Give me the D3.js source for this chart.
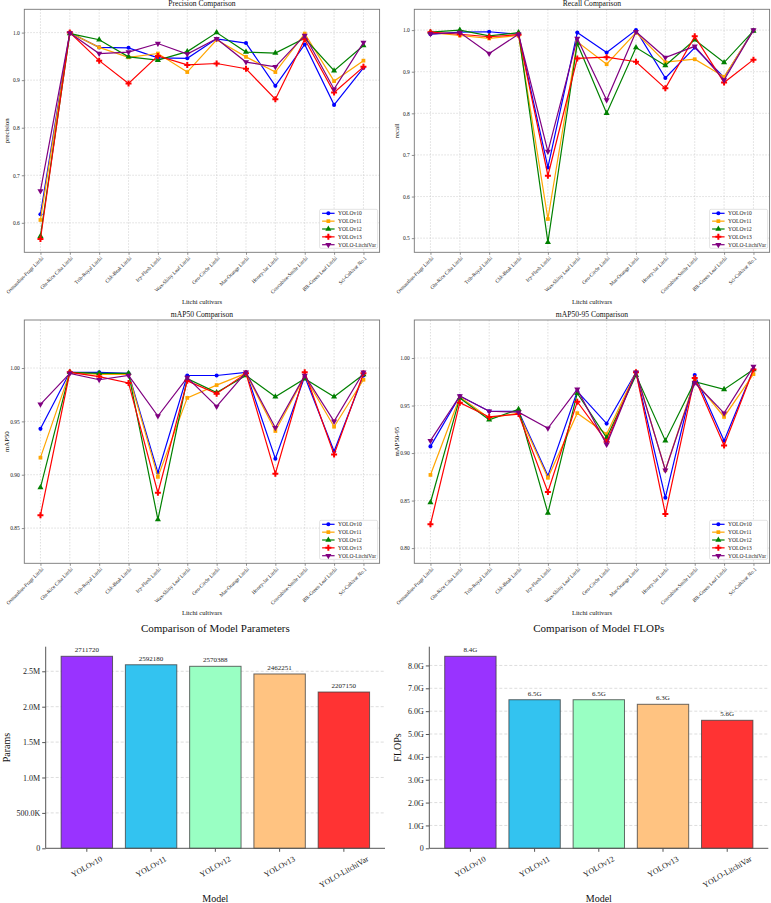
<!DOCTYPE html>
<html>
<head>
<meta charset="utf-8">
<script src="https://cdn.jsdelivr.net/npm/d3@7"></script>
<style>
  body { margin: 0; background: #fff; }
  svg { display: block; font-family: "Liberation Serif", "Times New Roman", serif; }
</style>
</head>
<body>
<svg id="chart" width="771" height="903"></svg>
<script>
// cultivars on the x axis of the four line charts
const cultivars = [
  "Osmanthus-Fragr Litchi", "Glu-Rice Ciba Litchi", "Trib-Royal Litchi", "Chk-Beak Litchi",
  "Icy-Flesh Litchi", "Wax-Shiny Leaf Litchi", "Gen-Circle Litchi", "Mar-Orange Litchi",
  "Honey-Jar Litchi", "Concubine-Smile Litchi", "Blk-Green Leaf Litchi", "Sci-Cultivar No.1"
];
const models = ["YOLOv10", "YOLOv11", "YOLOv12", "YOLOv13", "YOLO-LitchiVar"];

// one row per model, same order as `models`
const precision = [
  [0.618, 1.000, 0.969, 0.968, 0.947, 0.946, 0.987, 0.978, 0.888, 0.975, 0.848, 0.926],
  [0.606, 1.000, 0.969, 0.948, 0.956, 0.917, 0.985, 0.949, 0.917, 0.998, 0.898, 0.941],
  [0.572, 0.998, 0.985, 0.949, 0.942, 0.960, 1.000, 0.959, 0.957, 0.988, 0.920, 0.973],
  [0.566, 1.000, 0.941, 0.893, 0.951, 0.932, 0.935, 0.924, 0.860, 0.986, 0.874, 0.928],
  [0.667, 0.999, 0.956, 0.959, 0.977, 0.955, 0.987, 0.938, 0.928, 0.994, 0.881, 0.979]
];
const recall = [
  [0.990, 0.995, 0.996, 0.990, 0.670, 0.994, 0.946, 1.000, 0.885, 0.958, 0.886, 1.000],
  [0.994, 0.987, 0.980, 0.987, 0.546, 0.972, 0.918, 0.994, 0.923, 0.930, 0.888, 0.999],
  [0.995, 1.000, 0.986, 0.994, 0.490, 0.968, 0.800, 0.958, 0.915, 0.977, 0.922, 0.998],
  [0.995, 0.990, 0.984, 0.989, 0.650, 0.932, 0.935, 0.924, 0.860, 0.985, 0.874, 0.929],
  [0.991, 0.994, 0.944, 0.990, 0.708, 0.980, 0.832, 0.996, 0.934, 0.961, 0.880, 1.000]
];
const map50 = [
  [0.943, 0.996, 0.996, 0.995, 0.902, 0.993, 0.993, 0.996, 0.915, 0.992, 0.922, 0.993],
  [0.916, 0.996, 0.994, 0.994, 0.898, 0.972, 0.984, 0.995, 0.941, 0.992, 0.945, 0.989],
  [0.888, 0.996, 0.995, 0.995, 0.858, 0.990, 0.977, 0.993, 0.973, 0.990, 0.973, 0.994],
  [0.862, 0.996, 0.992, 0.986, 0.883, 0.988, 0.976, 0.995, 0.901, 0.996, 0.919, 0.995],
  [0.966, 0.995, 0.989, 0.993, 0.955, 0.991, 0.964, 0.996, 0.944, 0.993, 0.950, 0.996]
];
const map5095 = [
  [0.907, 0.960, 0.944, 0.944, 0.876, 0.965, 0.931, 0.985, 0.853, 0.982, 0.913, 0.988],
  [0.877, 0.959, 0.937, 0.942, 0.874, 0.942, 0.920, 0.985, 0.882, 0.976, 0.938, 0.983],
  [0.848, 0.958, 0.935, 0.946, 0.837, 0.963, 0.916, 0.982, 0.913, 0.975, 0.967, 0.988],
  [0.825, 0.953, 0.938, 0.941, 0.859, 0.954, 0.912, 0.985, 0.836, 0.979, 0.908, 0.988],
  [0.913, 0.960, 0.944, 0.943, 0.926, 0.967, 0.909, 0.985, 0.882, 0.974, 0.942, 0.991]
];

// bar charts
const params = [2711720, 2592180, 2570388, 2462251, 2207150];
const flops = [8.4, 6.5, 6.5, 6.3, 5.6];

const lineColors = ["blue", "orange", "green", "red", "purple"];
const markers = ["circle", "square", "tri", "plus", "tridown"];
const barColors = ["#9933ff", "#33c3f0", "#99ffc3", "#ffc381", "#ff3333"];

const svg = d3.select("#chart");

function markerPath(kind) {
  if (kind === "circle") return d3.symbol(d3.symbolCircle, 13)();
  if (kind === "square") return d3.symbol(d3.symbolSquare, 14)();
  if (kind === "tri" || kind === "tridown") return d3.symbol(d3.symbolTriangle, 16)();
  return d3.symbol(d3.symbolCross, 20)();
}

function drawLine(opt) {
  const g = svg.append("g");
  const x = d3.scaleLinear().domain([-0.55, cultivars.length - 0.45]).range([opt.left, opt.right]);
  const y = d3.scaleLinear().domain(opt.domain).range([opt.bottom, opt.top]);

  // grid
  g.selectAll(".gx").data(cultivars).join("line")
    .attr("x1", (d, i) => x(i)).attr("x2", (d, i) => x(i))
    .attr("y1", opt.top).attr("y2", opt.bottom)
    .attr("stroke", "#c8c8c8").attr("stroke-width", 0.6).attr("stroke-dasharray", "1.5,1.5");
  g.selectAll(".gy").data(opt.ticks).join("line")
    .attr("x1", opt.left).attr("x2", opt.right)
    .attr("y1", d => y(d)).attr("y2", d => y(d))
    .attr("stroke", "#c8c8c8").attr("stroke-width", 0.6).attr("stroke-dasharray", "1.5,1.5");

  // axes
  const yAxis = d3.axisLeft(y).tickValues(opt.ticks).tickFormat(d3.format(opt.fmt)).tickSize(2.5).tickPadding(2);
  const ya = g.append("g").attr("transform", `translate(${opt.left},0)`).call(yAxis);
  ya.select(".domain").remove();
  ya.selectAll("text").attr("font-size", 5.5).attr("font-family", "Liberation Serif").attr("fill", "#222");
  ya.selectAll("line").attr("stroke", "#444").attr("stroke-width", 0.6);

  const xa = g.append("g").attr("transform", `translate(0,${opt.bottom})`)
    .call(d3.axisBottom(x).tickValues(d3.range(cultivars.length)).tickFormat(i => cultivars[i]).tickSize(2.5));
  xa.select(".domain").remove();
  xa.selectAll("line").attr("stroke", "#444").attr("stroke-width", 0.6);
  xa.selectAll("text")
    .attr("font-size", 5.2).attr("font-family", "Liberation Serif").attr("fill", "#222")
    .attr("text-anchor", "end").attr("dy", "0.35em").attr("y", 0)
    .attr("transform", "translate(1.5,5) rotate(-45)");

  // frame
  g.append("rect").attr("x", opt.left).attr("y", opt.top)
    .attr("width", opt.right - opt.left).attr("height", opt.bottom - opt.top)
    .attr("fill", "none").attr("stroke", "#777").attr("stroke-width", 0.9);

  // series
  const line = d3.line().x((d, i) => x(i)).y(d => y(d));
  opt.data.forEach((row, m) => {
    g.append("path").datum(row).attr("d", line)
      .attr("fill", "none").attr("stroke", lineColors[m]).attr("stroke-width", 1.2);
    g.selectAll(".mk" + m).data(row).join("path")
      .attr("d", markerPath(markers[m]))
      .attr("transform", (d, i) => `translate(${x(i)},${y(d)})` + (markers[m] === "tridown" ? " rotate(180)" : ""))
      .attr("fill", lineColors[m]);
  });

  // titles
  g.append("text").attr("x", (opt.left + opt.right) / 2).attr("y", opt.top - 3)
    .attr("text-anchor", "middle").attr("font-size", 7.6).attr("fill", "#111").text(opt.title);
  g.append("text").attr("x", (opt.left + opt.right) / 2).attr("y", opt.bottom + 51.5)
    .attr("text-anchor", "middle").attr("font-size", 6.6).attr("fill", "#111").text("Litchi cultivars");
  g.append("text").attr("transform", `translate(${opt.left - 15},${(opt.top + opt.bottom) / 2}) rotate(-90)`)
    .attr("text-anchor", "middle").attr("font-size", 6.8).attr("fill", "#111").text(opt.ylabel);

  // legend
  const lw = 58, lh = 39;
  const lx = opt.right - 2 - lw, ly = opt.bottom - 4 - lh;
  const lg = g.append("g").attr("transform", `translate(${lx},${ly})`);
  lg.append("rect").attr("width", lw).attr("height", lh).attr("rx", 1.5)
    .attr("fill", "#fff").attr("fill-opacity", 0.85).attr("stroke", "#d0d0d0").attr("stroke-width", 0.6);
  models.forEach((name, m) => {
    const cy = 4 + m * 7.85;
    lg.append("line").attr("x1", 2.5).attr("x2", 15).attr("y1", cy).attr("y2", cy)
      .attr("stroke", lineColors[m]).attr("stroke-width", 1.2);
    lg.append("path").attr("d", markerPath(markers[m]))
      .attr("transform", `translate(8.75,${cy})` + (markers[m] === "tridown" ? " rotate(180)" : ""))
      .attr("fill", lineColors[m]);
    lg.append("text").attr("x", 18.5).attr("y", cy).attr("dy", "0.35em")
      .attr("font-size", 5.5).attr("fill", "#222").text(name);
  });
}

drawLine({ left: 24.3, right: 379.6, top: 9.3, bottom: 252.3, domain: [0.538, 1.049],
  ticks: [0.6, 0.7, 0.8, 0.9, 1.0], fmt: ".1f", title: "Precision Comparison", ylabel: "precision", data: precision });
drawLine({ left: 414.3, right: 769.6, top: 9.3, bottom: 252.3, domain: [0.466, 1.05],
  ticks: [0.5, 0.6, 0.7, 0.8, 0.9, 1.0], fmt: ".1f", title: "Recall Comparison", ylabel: "recall", data: recall });
drawLine({ left: 24.3, right: 379.6, top: 320, bottom: 563.3, domain: [0.817, 1.045],
  ticks: [0.85, 0.90, 0.95, 1.00], fmt: ".2f", title: "mAP50 Comparison", ylabel: "mAP50", data: map50 });
drawLine({ left: 414.3, right: 769.6, top: 320, bottom: 563.3, domain: [0.784, 1.04],
  ticks: [0.80, 0.85, 0.90, 0.95, 1.00], fmt: ".2f", title: "mAP50-95 Comparison", ylabel: "mAP50-95", data: map5095 });

function drawBars(opt) {
  const g = svg.append("g");
  const x = d3.scaleLinear().domain([-0.64, models.length - 0.36]).range([opt.left, opt.right]);
  const y = d3.scaleLinear().domain([0, d3.max(opt.data) * 1.05]).range([opt.bottom, opt.top]);
  const step = x(1) - x(0);

  // grid
  g.selectAll(".gy").data(opt.ticks.filter(t => t > 0)).join("line")
    .attr("x1", opt.left).attr("x2", opt.right)
    .attr("y1", d => y(d)).attr("y2", d => y(d))
    .attr("stroke", "#d4d4d4").attr("stroke-width", 0.8).attr("stroke-dasharray", "3,2");

  // bars
  g.selectAll(".bar").data(opt.data).join("rect")
    .attr("x", (d, i) => x(i) - step * 0.4).attr("width", step * 0.8)
    .attr("y", d => y(d)).attr("height", d => opt.bottom - y(d))
    .attr("fill", (d, i) => barColors[i])
    .attr("stroke", "#3a3a3a").attr("stroke-opacity", 0.75).attr("stroke-width", 1);

  g.selectAll(".val").data(opt.data).join("text")
    .attr("x", (d, i) => x(i)).attr("y", d => y(d) - 4)
    .attr("text-anchor", "middle").attr("font-size", 7).attr("fill", "#222")
    .text(opt.valFmt);

  // y axis
  const ya = g.append("g").attr("transform", `translate(${opt.left},0)`)
    .call(d3.axisLeft(y).tickValues(opt.ticks).tickFormat(opt.tickFmt).tickSize(3.5).tickPadding(2));
  ya.select(".domain").attr("d", `M0,${opt.bottom}V${opt.top}`).attr("stroke", "#555").attr("stroke-width", 1);
  ya.selectAll("line").attr("stroke", "#555");
  ya.selectAll("text").attr("font-size", 8).attr("font-family", "Liberation Serif").attr("fill", "#222");

  // x axis
  const xa = g.append("g").attr("transform", `translate(0,${opt.bottom})`);
  xa.append("line").attr("x1", opt.left).attr("x2", opt.right).attr("stroke", "#555").attr("stroke-width", 1);
  models.forEach((name, i) => {
    xa.append("line").attr("x1", x(i)).attr("x2", x(i)).attr("y1", 0).attr("y2", 3.5).attr("stroke", "#555");
    const t = xa.append("text").attr("font-size", 8).attr("fill", "#222")
      .attr("text-anchor", "middle").attr("dy", "0.32em").text(name);
    const w = t.node().getComputedTextLength();
    const h = w * 0.5 + 8 * 0.866;
    t.attr("transform", `translate(${x(i)},${6.5 + h / 2}) rotate(-30)`);
  });

  // labels
  g.append("text").attr("x", (opt.left + opt.right) / 2).attr("y", opt.top - 14.5)
    .attr("text-anchor", "middle").attr("font-size", 11).attr("fill", "#111").text(opt.title);
  g.append("text").attr("x", (opt.left + opt.right) / 2).attr("y", 902)
    .attr("text-anchor", "middle").attr("font-size", 10).attr("fill", "#111").text("Model");
  g.append("text").attr("transform", `translate(${opt.ylabX},${(opt.top + opt.bottom) / 2}) rotate(-90)`)
    .attr("text-anchor", "middle").attr("dy", "0.35em").attr("font-size", 10).attr("fill", "#111").text(opt.ylabel);
}

drawBars({ left: 45.7, right: 385, top: 646.7, bottom: 848.3, data: params,
  ticks: [0, 500000, 1000000, 1500000, 2000000, 2500000],
  tickFmt: d => d === 0 ? "0" : d >= 1e6 ? (d / 1e6).toFixed(1) + "M" : (d / 1e3).toFixed(1) + "K",
  valFmt: d => d, title: "Comparison of Model Parameters", ylabel: "Params", ylabX: 6 });
drawBars({ left: 429.3, right: 768.3, top: 646.7, bottom: 848.3, data: flops,
  ticks: d3.range(0, 9),
  tickFmt: d => d === 0 ? "0" : d.toFixed(1) + "G",
  valFmt: d => d.toFixed(1) + "G", title: "Comparison of Model FLOPs", ylabel: "FLOPs", ylabX: 397 });
</script>
</body>
</html>
